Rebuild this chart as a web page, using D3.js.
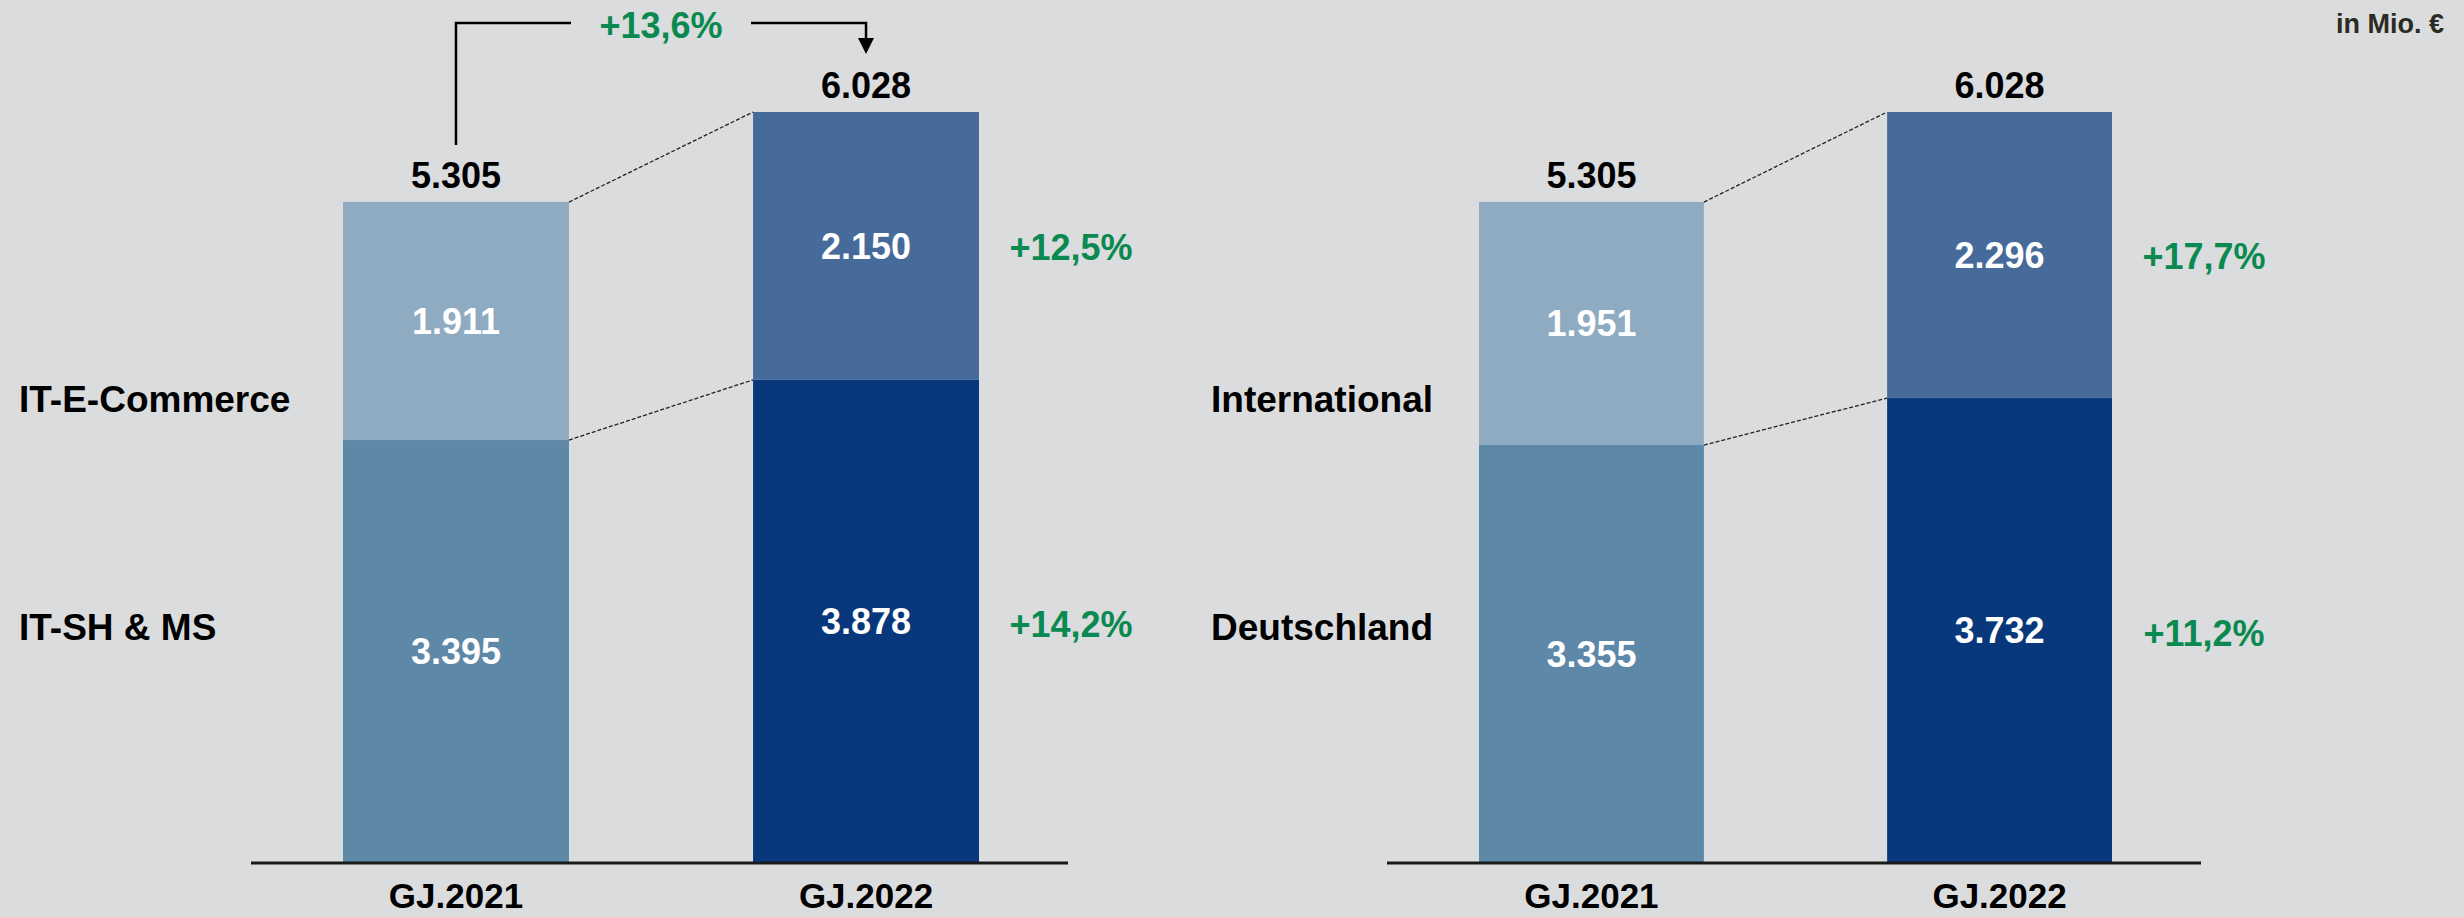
<!DOCTYPE html>
<html>
<head>
<meta charset="utf-8">
<script src="https://cdn.jsdelivr.net/npm/d3@7"></script>
<style>
  body { margin: 0; background: #dbdcde; }
  text { font-family: "Liberation Sans", Arial, sans-serif; font-weight: bold; }
</style>
</head>
<body>
<div id="chart"></div>
<script>
// Data
const years = ["GJ.2021", "GJ.2022"];
const totals = [5305, 6028];
const totalGrowth = "+13,6%";

// Segmente
const segLabels = ["IT-SH & MS", "IT-E-Commerce"];
const segLower = [3395, 3878];
const segUpper = [1911, 2150];
const segGrowth = ["+14,2%", "+12,5%"];

// Regionen
const regLabels = ["Deutschland", "International"];
const regLower = [3355, 3732];
const regUpper = [1951, 2296];
const regGrowth = ["+11,2%", "+17,7%"];

const unitLabel = "in Mio. €";

// Set up dimensions
const width = 2464, height = 917;
const baseY = 863, topY = 112;

const de = d3.formatLocale({decimal: ",", thousands: ".", grouping: [3], currency: ["", " €"]});
const fmt = de.format(",d");

const svg = d3.select("#chart")
              .append("svg")
              .attr("width", width)
              .attr("height", height);

svg.append("rect")
   .attr("width", width)
   .attr("height", height)
   .attr("fill", "#dbdcde");

const y = d3.scaleLinear()
            .domain([0, d3.max(totals)])
            .range([baseY, topY]);

// colours: [year][lower, upper]
const colors = [["#5d88a8", "#8eabc2"], ["#08387b", "#466a99"]];

function drawPanel(range, lower, upper, labels, growth, labelX) {
    const g = svg.append("g");

    const x = d3.scaleBand()
                .domain(years)
                .range(range)
                .paddingInner(0.449)
                .paddingOuter(0);

    const rows = years.map((yr, i) => ({year: yr, lower: lower[i], upper: upper[i], total: totals[i]}));
    const stacked = d3.stack().keys(["lower", "upper"])(rows);

    // bars
    stacked.forEach((layer, k) => {
        g.selectAll(null)
         .data(layer)
         .enter()
         .append("rect")
         .attr("x", d => x(d.data.year))
         .attr("width", x.bandwidth())
         .attr("y", d => y(d[1]))
         .attr("height", d => y(d[0]) - y(d[1]))
         .attr("fill", (d, i) => colors[i][k]);

        // values inside
        g.selectAll(null)
         .data(layer)
         .enter()
         .append("text")
         .attr("x", d => x(d.data.year) + x.bandwidth() / 2)
         .attr("y", d => (y(d[0]) + y(d[1])) / 2)
         .attr("dy", "0.36em")
         .attr("text-anchor", "middle")
         .attr("fill", "#ffffff")
         .style("font-size", "36px")
         .text(d => fmt(d.data[layer.key]));
    });

    // dashed connectors between the bars
    const x0 = x(years[0]) + x.bandwidth(), x1 = x(years[1]);
    [[totals[0], totals[1]], [lower[0], lower[1]]].forEach(p => {
        g.append("line")
         .attr("x1", x0).attr("y1", y(p[0]))
         .attr("x2", x1).attr("y2", y(p[1]))
         .attr("stroke", "#222")
         .attr("stroke-width", 1.3)
         .attr("stroke-dasharray", "4,2");
    });

    // totals above bars
    g.selectAll(null)
     .data(rows)
     .enter()
     .append("text")
     .attr("x", d => x(d.year) + x.bandwidth() / 2)
     .attr("y", d => y(d.total) - 14)
     .attr("text-anchor", "middle")
     .attr("fill", "#000")
     .style("font-size", "36px")
     .text(d => fmt(d.total));

    // growth labels right of the last bar
    const last = years[1];
    const gx = x(last) + x.bandwidth() + 92;
    g.append("text")
     .attr("x", gx)
     .attr("y", (y(lower[1] + upper[1]) + y(lower[1])) / 2)
     .attr("dy", "0.38em")
     .attr("text-anchor", "middle")
     .attr("fill", "#0a8a50")
     .style("font-size", "36px")
     .text(growth[1]);
    g.append("text")
     .attr("x", gx)
     .attr("y", (y(lower[1]) + y(0)) / 2)
     .attr("dy", "0.42em")
     .attr("text-anchor", "middle")
     .attr("fill", "#0a8a50")
     .style("font-size", "36px")
     .text(growth[0]);

    // row labels on the left
    g.append("text")
     .attr("x", labelX)
     .attr("y", 412)
     .attr("fill", "#000")
     .style("font-size", "37px")
     .text(labels[1]);
    g.append("text")
     .attr("x", labelX)
     .attr("y", 640)
     .attr("fill", "#000")
     .style("font-size", "37px")
     .text(labels[0]);

    // baseline
    g.append("line")
     .attr("x1", range[0] - 92)
     .attr("x2", range[1] + 89)
     .attr("y1", baseY)
     .attr("y2", baseY)
     .attr("stroke", "#1a1a1a")
     .attr("stroke-width", 3);

    // x labels
    g.selectAll(null)
     .data(years)
     .enter()
     .append("text")
     .attr("x", d => x(d) + x.bandwidth() / 2)
     .attr("y", 908)
     .attr("text-anchor", "middle")
     .attr("fill", "#000")
     .style("font-size", "35px")
     .text(d => d);

    return x;
}

const xLeft = drawPanel([343, 979], segLower, segUpper, segLabels, segGrowth, 19);
drawPanel([1479, 2112], regLower, regUpper, regLabels, regGrowth, 1211);

// bracket with total growth (left panel)
const c0 = xLeft(years[0]) + xLeft.bandwidth() / 2,
      c1 = xLeft(years[1]) + xLeft.bandwidth() / 2,
      by = 23, mid = (c0 + c1) / 2;

svg.append("path")
   .attr("d", `M${c0},${y(totals[0]) - 57}V${by}H${mid - 90}`)
   .attr("fill", "none")
   .attr("stroke", "#000")
   .attr("stroke-width", 2.5);
svg.append("path")
   .attr("d", `M${mid + 90},${by}H${c1}V${by + 17}`)
   .attr("fill", "none")
   .attr("stroke", "#000")
   .attr("stroke-width", 2.5);
svg.append("path")
   .attr("d", `M${c1 - 8},${by + 15}L${c1 + 8},${by + 15}L${c1},${by + 31}Z`)
   .attr("fill", "#000");
svg.append("text")
   .attr("x", mid)
   .attr("y", 38)
   .attr("text-anchor", "middle")
   .attr("fill", "#0a8a50")
   .style("font-size", "36px")
   .text(totalGrowth);

// unit
svg.append("text")
   .attr("x", 2444)
   .attr("y", 33)
   .attr("text-anchor", "end")
   .attr("fill", "#2b2b24")
   .style("font-size", "27px")
   .text(unitLabel);
</script>
</body>
</html>
